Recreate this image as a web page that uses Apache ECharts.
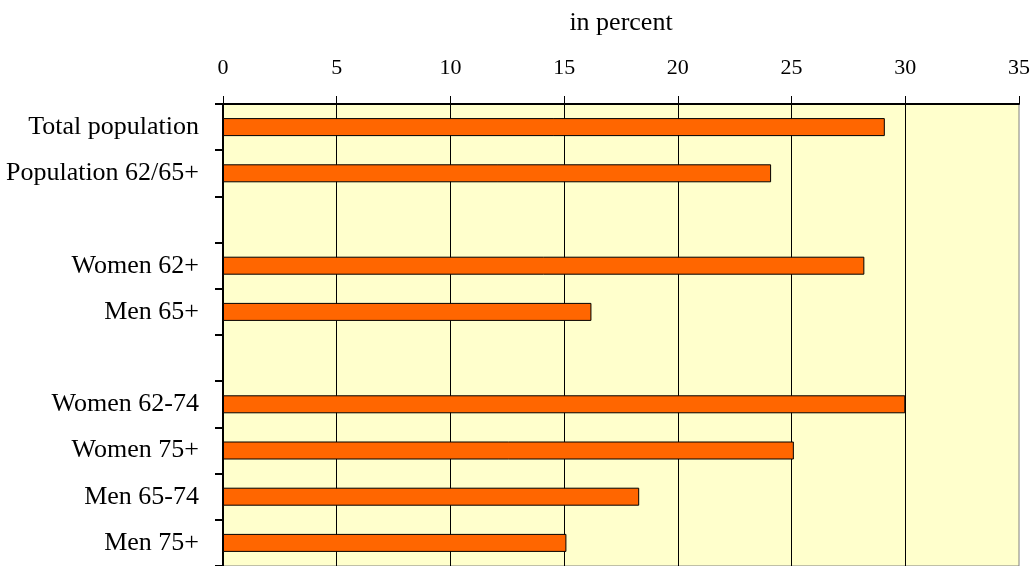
<!DOCTYPE html>
<html>
<head>
  <meta charset="UTF-8">
  <title>ECharts</title>
  <script src="https://cdn.jsdelivr.net/npm/echarts@6/dist/echarts.min.js"></script>
</head>
<body style="margin: 0; background-color: #ffffff;">
  <div id="main" style="width: 1034px; height: 566px;"></div>
  <script type="text/javascript">
    // categories, blank entries are the gaps between the groups
    var categories = ['Total population', 'Population 62/65+', '',
      'Women 62+', 'Men 65+', ' ',
      'Women 62-74', 'Women 75+', 'Men 65-74', 'Men 75+'];
    // in percent
    var values = [29.1, 24.1, null, 28.2, 16.2, null, 30.0, 25.1, 18.3, 15.1];
    var xTicks = [0, 5, 10, 15, 20, 25, 30, 35];

    var myChart = echarts.init(document.getElementById('main'));

    var option = {
      backgroundColor: '#ffffff',
      animation: false,
      grid: {
        left: 223,
        top: 104,
        width: 796,
        height: 465,
        show: true,
        backgroundColor: '#ffffcc',
        borderColor: '#808080',
        borderWidth: 1
      },
      xAxis: {
        type: 'value',
        position: 'top',
        min: xTicks[0],
        max: xTicks[xTicks.length - 1],
        interval: xTicks[1] - xTicks[0],
        name: 'in percent',
        nameLocation: 'middle',
        nameGap: 68,
        nameTextStyle: { fontFamily: 'Liberation Serif', fontSize: 26, color: '#000' },
        axisLine: { show: true, lineStyle: { color: '#000', width: 2 } },
        axisTick: { show: true, length: 8, lineStyle: { color: '#000' } },
        axisLabel: { fontFamily: 'Liberation Serif', fontSize: 22, color: '#000', margin: 25 },
        splitLine: { show: true, showMaxLine: false, lineStyle: { color: '#000', width: 1 } }
      },
      yAxis: {
        type: 'category',
        inverse: true,
        data: categories,
        axisLine: { show: true, lineStyle: { color: '#000', width: 2 } },
        axisTick: { show: true, length: 8, lineStyle: { color: '#000', width: 2 } },
        axisLabel: {
          fontFamily: 'Liberation Serif', fontSize: 26, color: '#000', margin: 24,
          padding: [8, 0, 0, 0]
        },
        splitLine: { show: false }
      },
      series: [{
        type: 'bar',
        data: values,
        barWidth: 18,
        itemStyle: { color: '#ff6600', borderColor: '#000', borderWidth: 1 }
      }]
    };

    myChart.setOption(option);
  </script>
</body>
</html>
